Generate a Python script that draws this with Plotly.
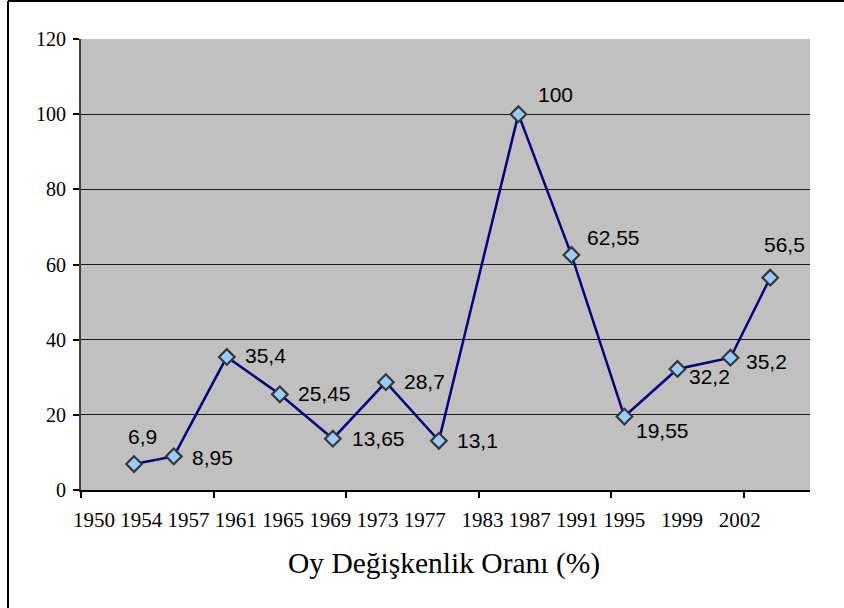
import plotly.graph_objects as go

# ---- data ----
years = [1954, 1957, 1961, 1965, 1969, 1973, 1977, 1983, 1987, 1991, 1995, 1999, 2002]
values = [6.9, 8.95, 35.4, 25.45, 13.65, 28.7, 13.1, 100, 62.55, 19.55, 32.2, 35.2, 56.5]
value_labels = ["6,9", "8,95", "35,4", "25,45", "13,65", "28,7", "13,1",
                "100", "62,55", "19,55", "32,2", "35,2", "56,5"]
year_labels = ["1950", "1954", "1957", "1961", "1965", "1969", "1973", "1977",
               "1983", "1987", "1991", "1995", "1999", "2002"]
title_text = "Oy Değişkenlik Oranı (%)"

# ---- layout geometry (pixels) ----
W, H = 844, 608
L, R, T, B = 81, 34, 39, 118
PW, PH = W - L - R, H - T - B


def px_x(p):
    return (p - L) / PW


def px_y(p):
    return (H - B - p) / PH


# label placement (style): (xanchor, xshift, yshift)
label_place = [
    ("center", 8, 28), ("left", 16, -1), ("left", 16, 1), ("left", 16, 1),
    ("left", 17, 0), ("left", 16, 1), ("left", 16, 0), ("left", 18, 20),
    ("left", 14, 17), ("left", 10, -14), ("left", 10, -8), ("left", 14, -4),
    ("center", 14, 33),
]

fig = go.Figure()
fig.add_trace(go.Scatter(
    x=years, y=values, mode="lines+markers",
    line=dict(color="#000080", width=2.5),
    marker=dict(symbol="diamond", size=12, color="#99CCFF",
                line=dict(color="#383838", width=2.2)),
    hoverinfo="skip", showlegend=False,
))

annotations = []
for x, y, t, (xa, dx, dy) in zip(years, values, value_labels, label_place):
    annotations.append(dict(
        x=x, y=y, xref="x", yref="y", text=t, showarrow=False,
        xanchor=xa, yanchor="middle", xshift=dx, yshift=dy,
        font=dict(family="Liberation Sans, Arial, sans-serif", size=21, color="#000"),
    ))

# year label row (as in the original, one line of text under the axis)
sep = "\u00a0"
wide = {"1983", "1999", "2002"}
row = ""
for i, lab in enumerate(year_labels):
    if i > 0:
        row += sep * (3 if lab in wide else 1)
    row += lab
annotations.append(dict(
    x=px_x(71), y=px_y(520), xref="paper", yref="paper", text=row,
    showarrow=False, xanchor="left", yanchor="middle",
    font=dict(family="Liberation Serif, Times New Roman, serif", size=21, color="#000"),
))
annotations.append(dict(
    x=px_x(444), y=px_y(563), xref="paper", yref="paper", text=title_text,
    showarrow=False, xanchor="center", yanchor="middle",
    font=dict(family="Liberation Serif, Times New Roman, serif", size=29.5, color="#000"),
))

shapes = [
    # chart frame (top and left edges visible)
    dict(type="line", xref="paper", yref="paper", x0=px_x(8), x1=px_x(W + 5),
         y0=px_y(1), y1=px_y(1), line=dict(color="#000", width=2)),
    dict(type="line", xref="paper", yref="paper", x0=px_x(8), x1=px_x(8),
         y0=px_y(1), y1=px_y(H + 5), line=dict(color="#000", width=2)),
]

fig.update_layout(
    width=W, height=H,
    margin=dict(l=L, r=R, t=T, b=B, pad=0),
    paper_bgcolor="white", plot_bgcolor="#C0C0C0",
    annotations=annotations, shapes=shapes,
    xaxis=dict(range=[1950, 2005], tickmode="array",
               tickvals=[1950, 1960, 1970, 1980, 1990, 2000],
               showticklabels=False, ticks="outside", ticklen=6,
               tickcolor="#000", tickwidth=1.5,
               showgrid=False, zeroline=False,
               showline=True, linecolor="#000", linewidth=2),
    yaxis=dict(range=[0, 120], tickmode="linear", tick0=0, dtick=20,
               ticks="outside", ticklen=6, tickcolor="#000", tickwidth=1.5,
               showgrid=True, gridcolor="#1a1a1a", gridwidth=1,
               zeroline=False, showline=True, linecolor="#404040", linewidth=2,
               ticklabelstandoff=3,
               tickfont=dict(family="Liberation Serif, Times New Roman, serif",
                             size=20, color="#000")),
)

fig.write_html(
    "out.html",
    config={"displayModeBar": False},
    post_script="document.body.style.margin='0';document.body.style.overflow='hidden';",
)
